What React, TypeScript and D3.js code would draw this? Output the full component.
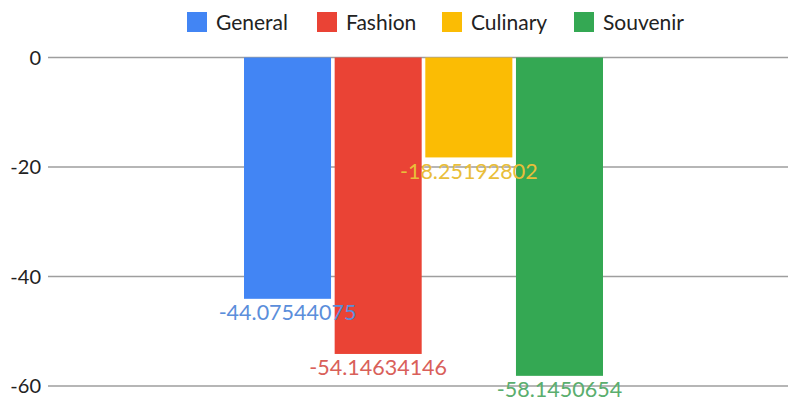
import React from "react";
import * as d3 from "d3";

const series = ["General", "Fashion", "Culinary", "Souvenir"];
const values = [-44.07544075, -54.14634146, -18.25192802, -58.1450654];
const labels = ["-44.07544075", "-54.14634146", "-18.25192802", "-58.1450654"];
const colors = ["#4285f4", "#ea4335", "#fbbc04", "#34a853"];
const labelColors = ["#5b8edb", "#d9605a", "#e9be3a", "#5aae6e"];
const yTicks = [0, -20, -40, -60];

const W = 788;
const H = 400;

export default function App() {
  const y = d3.scaleLinear().domain([0, -60]).range([57.5, 386]);
  const x = d3.scaleBand<string>().domain(series).range([244, 603]).paddingInner(0.04);
  const legendX = [187, 317, 442, 574];
  const font = "Lato, 'Open Sans', sans-serif";
  return (
    <svg
      width={W}
      height={H}
      style={{ position: "absolute", left: 0, top: 0, background: "#fff" }}
      fontFamily={font}
    >
      {yTicks.map((t) => (
        <g key={t}>
          <line x1={48} x2={W} y1={y(t)} y2={y(t)} stroke="#9e9e9e" strokeWidth={1.6} />
          <text x={41} y={y(t)} dy="0.35em" textAnchor="end" fontSize={20} fill="#222">
            {t}
          </text>
        </g>
      ))}
      {series.map((s, i) => (
        <rect
          key={s}
          x={x(s)}
          y={y(0)}
          width={x.bandwidth()}
          height={y(values[i]) - y(0)}
          fill={colors[i]}
        />
      ))}
      {series.map((s, i) => (
        <text
          key={s + "l"}
          x={(x(s) as number) + x.bandwidth() / 2}
          y={y(values[i]) + 14}
          dy="0.35em"
          textAnchor="middle"
          fontSize={21.5}
          fill={labelColors[i]}
        >
          {labels[i]}
        </text>
      ))}
      {series.map((s, i) => (
        <g key={s + "lg"}>
          <rect x={legendX[i]} y={12} width={20} height={20} fill={colors[i]} />
          <text x={legendX[i] + 29} y={22.5} dy="0.35em" fontSize={21} fill="#222">
            {s}
          </text>
        </g>
      ))}
    </svg>
  );
}
